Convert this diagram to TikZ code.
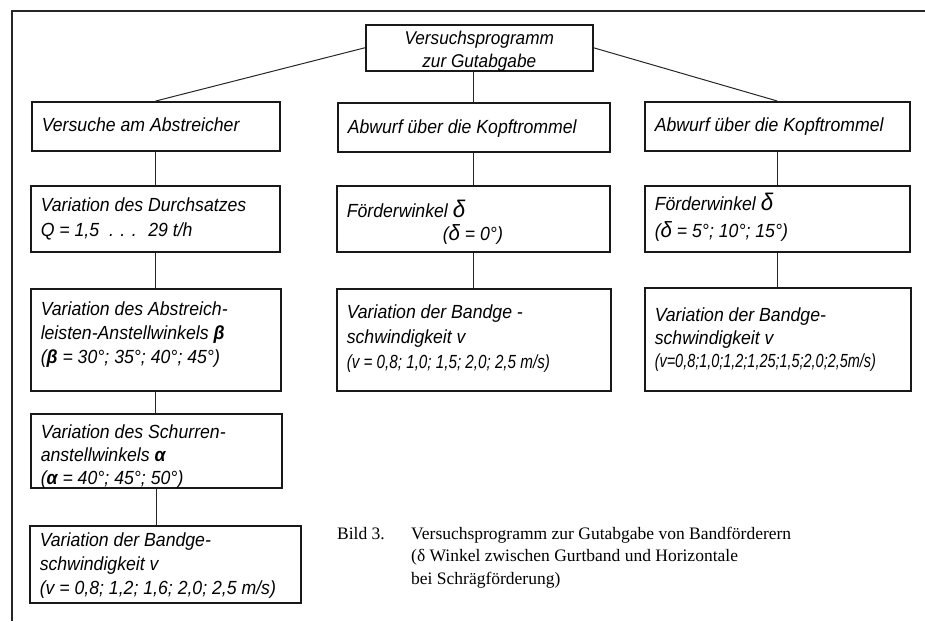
\documentclass[tikz,border=0pt]{standalone}
\usepackage{fontspec}
\setmainfont{Liberation Serif}
\newfontfamily\dinfont{Liberation Sans}[FakeStretch=0.93]
\newfontfamily\dincond{Liberation Sans}[FakeStretch=0.8]
\newfontfamily\dinnarrow{Liberation Sans}[FakeStretch=0.76]
% #1 text width, #2 box height, #3 first baseline from top, #4 line distance, #5 text
\newcommand{\bxtext}[5]{\parbox[c][#2][t]{#1}{\raggedright\baselineskip=#4\relax\rule{0pt}{#3}#5\par}}
\newcommand{\bxctext}[5]{\parbox[c][#2][t]{#1}{\centering\baselineskip=#4\relax\rule{0pt}{#3}#5\par}}
\begin{document}
\begin{tikzpicture}[x=1pt,y=-1pt,
  box/.style={draw=black!90, line width=1.5pt, rectangle, anchor=north west,
    inner xsep=10pt, inner ysep=0pt,
    font=\dinfont\itshape\fontsize{19}{25}\selectfont},
  conn/.style={draw=black!85, line width=1pt},
  frame/.style={draw=black!85, line width=1.4pt},
  captext/.style={anchor=base west, inner sep=0pt, font=\fontsize{17.5}{22.5}\selectfont}]
\useasboundingbox (0,0) rectangle (925,621);
% scan frame
\coordinate (fTL) at (12,11);
\coordinate (fTR) at (925,11);
\coordinate (fBL) at (12,621);
\draw[frame] (fTR) -- (fTL) -- (fBL);
% boxes
\node[box, font=\dinfont\itshape\fontsize{18.5}{23}\selectfont] (top) at (365,24)
  {\bxctext{207pt}{46pt}{20pt}{23pt}{Versuchsprogramm\\zur Gutabgabe}};
\node[box] (A) at (31,101)
  {\bxtext{228pt}{49pt}{30pt}{25pt}{Versuche am Abstreicher}};
\node[box] (B) at (337,102)
  {\bxtext{252pt}{49pt}{31pt}{25pt}{Abwurf über die Kopftrommel}};
\node[box] (C) at (644,101)
  {\bxtext{245pt}{49pt}{30pt}{25pt}{Abwurf über die Kopftrommel}};
\node[box] (A2) at (30,185)
  {\bxtext{229pt}{66pt}{26pt}{25pt}{Variation des Durchsatzes\\Q = 1,5 \ . . . \ 29 t/h}};
\node[box] (A3) at (30,288)
  {\bxtext{230pt}{102pt}{27pt}{24pt}{Variation des Abstreich-\\leisten-Anstellwinkels {\bfseries β}\\({\bfseries β} = 30°; 35°; 40°; 45°)}};
\node[box] (A4) at (30,413)
  {\bxtext{231pt}{74pt}{25pt}{23pt}{Variation des Schurren-\\anstellwinkels {\bfseries α}\\({\bfseries α} = 40°; 45°; 50°)}};
\node[box] (A5) at (29,525)
  {\bxtext{251pt}{77pt}{21pt}{24pt}{Variation der Bandge-\\schwindigkeit v\\(v = 0,8; 1,2; 1,6; 2,0; 2,5 m/s)}};
\node[box] (B2) at (336,185)
  {\bxtext{253pt}{66pt}{32pt}{23pt}{Förderwinkel {\fontsize{24}{25}\selectfont δ}\\\hspace*{96pt}({\fontsize{22}{25}\selectfont δ} = 0°)}};
\node[box] (B3) at (336,288)
  {\bxtext{254pt}{102pt}{30pt}{25pt}{Variation der Bandge -\\schwindigkeit v\\{\dincond\itshape(v = 0,8; 1,0; 1,5; 2,0; 2,5 m/s)}}};
\node[box] (C2) at (644,185)
  {\bxtext{245pt}{66pt}{25pt}{27pt}{Förderwinkel {\fontsize{24}{25}\selectfont δ}\\({\fontsize{22}{25}\selectfont δ} = 5°; 10°; 15°)}};
\node[box] (C3) at (644,287)
  {\bxtext{246pt}{103pt}{34pt}{23pt}{Variation der Bandge-\\schwindigkeit v\\{\dinnarrow\itshape(v=0,8;1,0;1,2;1,25;1,5;2,0;2,5m/s)}}};
% connectors
\draw[conn] (top.west) -- (A.north);
\draw[conn] (top.east) -- (C.north);
\draw[conn] (B.north) -- (B.north |- top.south);
\draw[conn] (A.south) -- (A.south |- A2.north);
\draw[conn] (A2.south) -- (A2.south |- A3.north);
\draw[conn] (A3.south) -- (A3.south |- A4.north);
\draw[conn] (A4.south) -- (A4.south |- A5.north);
\draw[conn] (B.south) -- (B.south |- B2.north);
\draw[conn] (B2.south) -- (B2.south |- B3.north);
\draw[conn] (C.south) -- (C.south |- C2.north);
\draw[conn] (C2.south) -- (C2.south |- C3.north);
% caption
\node[captext] (capnum) at (337,539) {Bild 3.};
\node[captext] (cap1) at (411,539) {Versuchsprogramm zur Gutabgabe von Bandförderern};
\node[captext] (cap2) at (411,561.5) {(δ Winkel zwischen Gurtband und Horizontale};
\node[captext] (cap3) at (411,584) {bei Schrägförderung)};
\end{tikzpicture}
\end{document}
